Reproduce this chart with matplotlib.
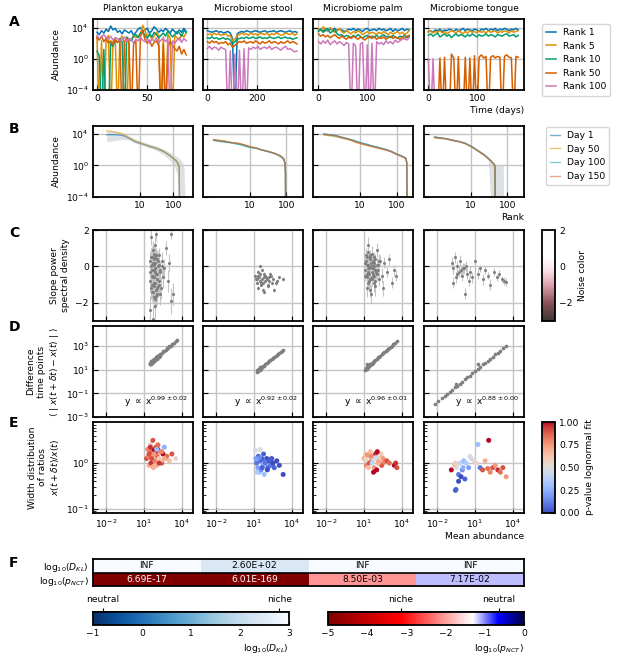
import numpy as np
import matplotlib
matplotlib.use('Agg')
import matplotlib.pyplot as plt
from matplotlib.colors import LinearSegmentedColormap, ListedColormap, Normalize, TwoSlopeNorm
from matplotlib.ticker import NullLocator, LogLocator, NullFormatter
from matplotlib.cm import ScalarMappable

W, H = 617, 658
plt.rcParams.update({
    'font.size': 6.6, 'axes.linewidth': 1.3,
    'xtick.direction': 'in', 'ytick.direction': 'in',
    'xtick.major.size': 3.5, 'ytick.major.size': 3.5,
    'xtick.minor.size': 2, 'ytick.minor.size': 2,
    'xtick.major.pad': 3, 'ytick.major.pad': 3,
    'grid.color': '#c4c4c4', 'grid.linewidth': 1.0,
    'axes.axisbelow': True,
})

# ---------------- data ----------------
titles = ['Plankton eukarya', 'Microbiome stool', 'Microbiome palm', 'Microbiome tongue']
rank_labels = ['Rank 1', 'Rank 5', 'Rank 10', 'Rank 50', 'Rank 100']
rank_colors = ['#0173b2', '#de8f05', '#029e73', '#d55e00', '#cc78bc']
time_step = [2.3, 9.2, 4.7, 4.7]   # days between samples
A_xticks = [[0, 50], [0, 200], [0, 100], [0, 100]]
A_xlim = [(-4, 96.6), (-17, 383), (-11, 191), (-9, 195)]

# log10 abundance; -8 = absent
A_plankton = [
    [3.4,3.1,3.6,3.3,3.8,3.5,4.2,3.7,3.9,3.4,3.6,3.2,3.7,3.5,3.3,3.6,3.0,3.4,3.8,4.0,3.5,3.7,3.9,3.3,3.6,4.1,3.8,3.4,3.7,3.5,3.9,3.6,3.3,3.8,3.5,3.2,3.7,3.4,3.9,3.5],
    [2.8,-8,2.3,-8,2.6,3.0,-8,2.2,2.7,-8,2.5,2.9,2.1,-8,2.6,2.4,3.0,2.7,2.9,3.2,4.3,3.6,2.8,3.1,2.5,2.9,3.4,3.0,-8,2.8,-8,3.2,2.6,-8,3.0,2.7,2.4,3.1,2.8,3.3],
    [1.0,0.4,-8,1.2,-8,-8,2.0,1.6,2.4,2.1,2.6,2.2,-8,2.8,2.5,2.3,2.9,3.1,2.7,3.3,3.5,3.0,2.6,3.2,2.8,3.4,3.1,2.7,3.0,3.3,2.9,3.6,3.2,2.8,3.1,3.5,3.3,2.9,3.6,3.4],
    [2.7,2.4,2.9,2.2,2.6,2.0,2.3,1.8,2.5,2.1,2.4,-8,2.2,2.6,2.0,-8,1.9,2.3,-8,2.8,3.6,2.5,2.0,2.4,1.6,2.1,2.3,1.7,-8,1.9,-8,1.5,2.2,1.8,1.3,1.0,1.6,0.6,1.2,0.5],
    [3.0,2.6,2.8,3.1,2.7,2.5,2.9,2.4,2.7,2.6,2.3,2.5,2.8,2.2,2.6,2.4,2.1,2.5,2.3,2.7,2.4,2.2,2.6,2.0,2.5,2.3,2.7,2.1,2.4,2.6,2.2,2.5,-8,2.3,2.0,2.4,2.7,2.1,2.6,2.3],
]
A_stool = [
    [3.6,3.5,3.4,3.5,3.6,3.4,3.5,3.3,3.4,3.5,3.3,2.6,-8,3.2,3.4,3.5,3.4,3.6,3.5,3.4,3.5,3.6,3.5,3.4,3.5,3.6,3.4,3.5,3.5,3.6,3.4,3.5,3.6,3.5,3.4,3.5,3.6,3.4,3.5,3.4],
    [3.1,3.2,3.0,3.3,3.1,3.2,3.0,3.1,3.2,2.9,3.0,2.3,2.5,3.0,3.1,3.3,3.1,3.2,3.0,3.3,3.1,3.2,3.0,3.3,3.2,3.1,3.3,3.0,3.2,3.1,3.3,3.2,3.0,3.1,3.3,3.2,3.1,3.3,3.0,3.2],
    [2.7,2.6,2.8,2.6,2.7,2.5,2.6,2.7,2.5,2.6,2.4,1.9,2.2,2.5,2.6,2.7,2.6,2.8,2.6,2.7,2.8,2.6,2.7,2.8,2.6,2.7,2.6,2.8,2.7,2.6,2.7,2.8,2.6,2.7,2.8,2.6,2.7,2.5,2.6,2.7],
    [2.2,2.0,2.3,2.1,2.2,1.9,2.1,2.0,2.2,1.8,2.0,1.5,1.7,2.0,2.2,2.1,2.3,2.0,2.1,2.2,2.0,2.3,2.1,1.9,2.2,2.0,2.1,2.3,2.0,2.2,2.1,1.9,2.2,2.0,2.1,2.3,2.0,2.2,2.1,1.9],
    [1.3,1.6,1.2,1.5,1.4,1.1,1.5,1.3,1.2,-8,1.0,-8,0.6,-8,1.1,-8,1.3,-8,1.4,1.2,1.5,1.3,1.6,1.2,1.4,1.5,1.3,1.6,1.2,1.4,1.5,1.3,1.1,1.4,1.6,1.2,1.3,1.1,0.9,1.0],
]
A_palm = [
    [3.7,3.8,3.5,3.9,3.6,3.8,3.7,3.9,3.6,3.8,3.7,3.5,3.6,3.8,3.7,3.9,3.6,3.8,3.7,3.5,3.8,3.9,3.6,3.7,3.8,3.6,3.9,3.7,3.8,3.6,3.7,3.9,3.5,3.8,3.6,3.7,3.9,3.6,3.8,3.7],
    [3.9,3.6,4.1,3.8,3.5,4.0,3.7,3.4,3.6,3.9,3.5,3.3,3.6,3.4,3.2,3.5,3.3,3.6,3.4,3.1,3.3,3.5,3.2,3.4,3.3,3.1,3.4,3.2,3.5,3.3,3.1,3.4,3.2,3.3,3.5,3.2,3.4,3.1,3.3,3.6],
    [3.5,3.8,3.4,3.6,3.9,3.3,3.5,3.7,3.2,3.0,3.1,2.8,3.0,2.9,2.7,3.0,2.8,3.1,2.9,2.6,2.9,3.0,2.7,2.9,2.8,3.0,2.7,2.9,3.1,2.8,2.9,2.7,3.0,2.8,2.6,2.9,2.8,3.0,2.7,2.9],
    [3.2,2.9,3.1,2.8,3.0,2.7,2.9,3.1,2.8,2.6,2.9,2.7,2.5,2.8,2.6,2.9,2.7,2.5,2.8,2.6,2.4,2.7,2.9,2.6,2.8,2.5,2.7,2.6,2.8,2.5,2.7,2.9,2.6,2.8,2.7,2.5,2.8,2.6,2.9,3.0],
    [2.2,1.9,2.3,2.0,2.4,1.8,2.1,2.3,1.9,2.2,2.0,1.7,2.1,1.9,-8,2.0,1.6,-8,1.9,2.1,-8,1.8,-8,2.0,-8,2.2,1.9,2.1,1.8,2.3,2.0,2.2,1.9,2.4,2.1,2.3,2.5,2.6,2.4,2.7],
]
A_tongue = [
    [3.5,3.6,3.4,3.7,3.6,3.8,3.5,3.7,3.6,3.8,3.7,3.5,3.8,3.6,3.7,3.9,3.6,3.8,3.7,3.6,3.8,3.7,3.5,3.8,3.7,3.9,3.6,3.8,3.7,3.9,3.6,3.8,3.7,3.9,3.8,3.6,3.8,3.7,3.9,3.7],
    [3.4,3.6,3.3,3.5,3.4,3.6,3.3,3.5,3.2,3.4,3.6,3.5,3.3,3.6,3.4,3.2,3.5,3.3,3.6,3.4,3.5,3.3,3.6,3.4,3.5,3.3,3.6,3.4,3.5,3.6,3.3,3.5,3.4,3.6,3.5,3.3,3.6,3.4,3.5,3.6],
    [3.0,3.2,2.9,3.1,3.3,2.8,3.0,3.2,2.9,3.1,2.7,3.0,3.2,2.9,3.1,3.0,2.8,3.1,2.9,3.2,3.0,2.8,3.1,2.9,3.0,3.2,2.9,3.1,3.0,2.8,3.1,3.0,2.9,3.1,3.2,2.9,3.0,3.1,2.8,3.0],
    [-8,-8,-8,-8,-8,0.1,-8,0.2,-8,-8,0.6,0.1,-8,0.3,-8,-8,0.2,-8,0.1,-8,0.4,-8,0.2,0.5,0.1,0.3,-8,0.2,0.4,0.1,0.3,0.2,-8,0.3,0.5,0.2,0.1,-8,0.3,0.2],
    [0.0,-8,0.0,-8,-8,-8,-8,-8,-8,-8,-8,-8,-8,-8,-8,-8,-8,-8,-8,-8,-8,-8,-8,-8,-8,-8,-8,-8,-8,-8,-8,-8,-8,-8,-8,-8,-8,-8,-8,-8],
]
A_all = [A_plankton, A_stool, A_palm, A_tongue]

# B: rank abundance (log10)
day_labels = ['Day 1', 'Day 50', 'Day 100', 'Day 150']
day_colors = ['#0173b2', '#de8f05', '#17a3b8', '#e0602a']
B_xlim = [(10**-0.41, 10**2.59), (10**-0.29, 10**2.46), (10**-0.30, 10**2.45), (10**-0.29, 10**2.46)]
B_ranks = [
    [1,2,3,4,5,7,10,15,20,30,50,70,100,120,140,150,155],
    [1,2,3,5,7,10,15,20,30,50,70,85,92,95,96],
    [1,2,3,5,7,10,15,20,30,50,70,100,130,160,180,190,195],
    [1,2,3,5,7,10,12,15,20,25,30,35,40,44,46,47],
]
B_days = [
    [[3.9,3.9,3.8,3.6,3.4,3.0,2.8,2.6,2.4,2.2,1.8,1.4,0.9,0.6,0.2,-0.3,-9],
     [4.4,4.2,4.0,3.7,3.4,3.1,2.9,2.6,2.4,2.2,1.8,1.4,0.9,0.6,0.2,-0.3,-9]],
    [[3.2,3.0,2.9,2.7,2.5,2.3,2.2,2.0,1.8,1.5,1.2,0.8,0.3,-1,-9],
     [3.3,3.1,2.9,2.8,2.6,2.4,2.2,2.0,1.8,1.5,1.2,0.8,0.3,-1,-9],
     [3.2,3.0,2.9,2.7,2.6,2.3,2.2,2.0,1.8,1.5,1.1,0.8,0.2,-1,-9],
     [3.2,3.1,2.9,2.8,2.6,2.4,2.2,2.0,1.8,1.5,1.2,0.9,0.3,-1,-9]],
    [[4.0,3.8,3.6,3.3,3.1,2.85,2.65,2.5,2.3,2.0,1.8,1.45,1.25,1.05,0.9,0.3,-9],
     [3.9,3.7,3.5,3.25,3.0,2.75,2.55,2.4,2.2,1.95,1.75,1.4,1.2,1.0,0.85,0.3,-9],
     [4.0,3.8,3.6,3.35,3.15,2.9,2.7,2.5,2.3,2.05,1.8,1.45,1.25,1.05,0.9,0.3,-9],
     [3.9,3.8,3.55,3.3,3.05,2.8,2.6,2.45,2.25,2.0,1.75,1.4,1.2,1.0,0.85,0.3,-9]],
    [[3.6,3.4,3.2,3.0,2.8,2.45,2.2,1.9,1.55,1.2,0.9,0.6,0.3,0.1,-0.1,-9],
     [3.5,3.4,3.2,3.0,2.75,2.4,2.2,1.9,1.5,1.2,0.9,0.6,0.3,0.1,-0.1,-9],
     [3.6,3.4,3.25,3.0,2.8,2.45,2.25,1.95,1.55,1.25,0.9,0.6,0.35,0.1,-0.1,-9],
     [3.55,3.4,3.2,3.0,2.8,2.4,2.2,1.9,1.5,1.2,0.85,0.6,0.3,0.1,-0.1,-9]],
]
B_band_ranks = [
    [1,2,3,5,7,10,20,30,50,70,100,130,160,190,210,220,222],
    [1,2,3,5,7,10,15,20,30,50,70,85,92,95,97],
    [1,2,3,5,7,10,15,20,30,50,70,100,130,160,180,190,198],
    [1,2,3,5,7,10,15,20,30,40,50,60,70,78,80],
]
B_band_lo = [
    [3.0,3.2,3.3,3.2,2.9,2.6,2.2,1.9,1.4,0.9,0.1,-1.0,-9,-9,-9,-9,-9],
    [3.1,2.9,2.8,2.6,2.4,2.2,2.1,1.9,1.7,1.4,1.0,0.6,0.0,-9,-9],
    [3.8,3.6,3.4,3.2,2.9,2.7,2.5,2.35,2.15,1.9,1.7,1.35,1.1,0.9,0.7,-9,-9],
    [3.4,3.3,3.1,2.9,2.7,2.3,1.8,1.4,0.7,-9,-9,-9,-9,-9,-9],
]
B_band_hi = [
    [4.4,4.3,4.1,3.7,3.4,3.1,2.7,2.5,2.1,1.8,1.4,1.1,0.8,0.4,-0.5,-3,-9],
    [3.4,3.2,3.0,2.9,2.7,2.5,2.3,2.1,1.9,1.6,1.3,1.0,0.5,-0.5,-9],
    [4.1,3.9,3.7,3.45,3.2,3.0,2.8,2.6,2.4,2.1,1.9,1.55,1.35,1.15,1.0,0.5,-9],
    [3.7,3.5,3.3,3.1,2.9,2.5,2.0,1.6,1.0,0.2,0.1,0.1,0.1,0.05,-9],
]

# C: slope of power spectral density vs mean abundance (log10 x)
C_x = [
    [1.45,1.5,1.55,1.6,1.62,1.65,1.7,1.72,1.75,1.78,1.8,1.83,1.85,1.88,1.9,1.93,1.95,1.98,2.0,2.05,2.1,2.15,2.2,2.25,2.3,2.4,2.5,2.6,2.75,2.9,3.0,3.1,3.3,1.5,1.6,1.7,1.8,1.9,2.0,1.55,1.65,1.75,3.13,
     1.48,1.52,1.58,1.63,1.68,1.73,1.77,1.82,1.87,1.92,1.97,2.02,2.08,2.12,2.18,2.22,2.28,2.35,2.45,1.6,1.7,1.8,1.9,2.0,1.75,1.85],
    [1.1,1.2,1.3,1.35,1.4,1.45,1.5,1.55,1.6,1.65,1.7,1.75,1.8,1.85,1.9,2.0,2.1,2.2,2.3,2.4,2.5,2.6,2.8,3.0,3.3,1.25,1.5,1.7,1.9,2.1,
     1.15,1.35,1.55,1.75,1.95,2.15,2.35,2.7],
    [1.05,1.1,1.15,1.2,1.25,1.3,1.35,1.4,1.45,1.5,1.55,1.6,1.65,1.7,1.75,1.8,1.85,1.9,2.0,2.1,2.2,2.3,2.4,2.5,2.6,2.8,3.0,3.2,3.4,3.5,1.2,1.4,1.6,1.8,2.0,1.3,1.5,1.7,
     1.1,1.15,1.2,1.25,1.3,1.35,1.4,1.45,1.5,1.55,1.6,1.65,1.7,1.75,1.8,1.85,1.9,1.95,2.0,2.1,2.2,1.3,1.5,1.7],
    [-0.85,-0.7,-0.6,-0.5,-0.4,-0.3,-0.2,-0.1,0.0,0.1,0.2,0.3,0.4,0.5,0.6,0.8,1.0,1.2,1.4,1.6,1.8,2.0,2.2,2.5,2.7,2.9,3.1,3.3,3.45,-0.75,-0.45,0.05],
]
C_y = [
    [0.3,-0.8,1.6,-0.2,-1.4,0.5,-2.9,-0.5,0.1,-1.1,0.7,-0.3,-1.8,0.2,-0.9,1.8,-0.4,-1.3,0.4,-0.7,0.0,-1.0,0.6,-0.2,-1.5,0.3,-0.6,-0.1,1.0,-0.8,0.2,-1.9,-1.5,-2.4,-1.0,0.9,-0.6,-2.2,-1.2,0.0,-0.5,-1.7,1.8,
     -0.3,0.5,-1.2,0.1,-0.6,-1.4,0.4,-0.9,-0.1,-1.6,0.6,-0.4,-1.1,0.3,-0.8,0.1,-0.3,-1.2,0.0,-0.5,0.2,-0.2,0.5,-1.5,-0.9,1.2],
    [-0.5,-0.9,-0.3,-1.2,-0.6,-0.8,-0.4,-1.0,-0.7,-0.2,-0.9,-0.6,-1.4,-0.5,-0.8,-0.7,-1.1,-0.6,-0.4,-0.9,-0.7,-1.3,-0.8,-0.6,-0.7,-0.7,0.0,-1.3,-0.5,-1.0,
     -0.7,-0.5,-0.9,-0.4,-0.6,-0.8,-0.5,-0.9],
    [0.2,-0.5,0.6,-1.2,0.1,-0.3,0.8,-0.8,-0.1,0.4,-1.5,0.0,-0.6,0.3,-0.9,0.5,-0.2,-1.1,-0.4,0.1,-0.7,0.3,-0.5,-1.2,0.2,-0.3,0.4,-0.9,-0.2,-0.5,-0.4,0.0,-0.7,0.2,0.9,1.2,-1.3,-0.1,
     -0.2,0.3,-0.6,0.5,-0.9,0.1,-0.4,0.6,-0.7,0.2,-0.3,0.7,-0.1,-0.5,0.0,-0.8,0.4,-0.3,0.1,-0.2,0.3,-0.1,0.5,-0.4],
    [0.2,-0.1,0.5,-0.6,0.0,-0.3,0.3,-0.2,-0.5,-0.1,-1.5,0.0,-0.4,-0.8,-0.3,-0.6,0.3,-0.4,-0.1,-0.7,-0.2,-0.5,-1.0,-0.3,-0.6,-0.4,-0.7,-0.8,-0.85,-0.9,-0.4,-0.1],
]
C_err = [
    [0.5,0.6,0.4,0.7,0.5,0.6,0.8,0.5,0.4,0.6,0.5,0.7,0.6,0.5,0.6,0.4,0.5,0.7,0.5,0.6,0.5,0.6,0.4,0.5,0.6,0.5,0.6,0.5,0.4,0.6,0.5,0.7,0.6,0.8,0.6,0.5,0.6,0.7,0.6,0.5,0.5,0.6,0.3,
     0.5,0.5,0.6,0.5,0.4,0.6,0.5,0.5,0.6,0.5,0.4,0.5,0.6,0.5,0.5,0.4,0.5,0.6,0.5,0.5,0.6,0.5,0.4,0.6,0.5,0.5],
    [0.1,0.1,0.1,0.1,0.1,0.1,0.1,0.1,0.1,0.1,0.1,0.1,0.1,0.1,0.1,0.1,0.1,0.1,0.1,0.1,0.1,0.1,0.1,0.1,0.1,0.1,0.1,0.1,0.1,0.1,
     0.1,0.1,0.1,0.1,0.1,0.1,0.1,0.1],
    [0.4,0.3,0.4,0.5,0.3,0.4,0.4,0.5,0.3,0.4,0.5,0.3,0.4,0.4,0.5,0.3,0.4,0.5,0.4,0.3,0.4,0.3,0.4,0.4,0.3,0.3,0.3,0.3,0.3,0.3,0.4,0.4,0.4,0.4,0.4,0.4,0.4,0.4,
     0.35,0.3,0.4,0.35,0.3,0.4,0.35,0.3,0.4,0.35,0.3,0.4,0.35,0.3,0.4,0.35,0.3,0.4,0.35,0.3,0.4,0.35,0.3,0.4],
    [0.3,0.3,0.3,0.3,0.3,0.3,0.3,0.3,0.3,0.3,0.3,0.3,0.3,0.3,0.3,0.3,0.3,0.3,0.2,0.3,0.2,0.2,0.3,0.2,0.2,0.2,0.2,0.2,0.2,0.3,0.3,0.3],
]

# D: mean absolute difference vs mean abundance (log10)
D_x = [
    [1.45,1.5,1.52,1.55,1.58,1.6,1.63,1.65,1.68,1.7,1.72,1.75,1.78,1.8,1.85,1.9,1.95,2.0,2.05,2.1,2.2,2.3,2.4,2.5,2.6,2.7,2.8,2.9,3.0,3.1,3.2,3.35,3.5,3.6,
     1.5,1.6,1.7,1.8,1.9,2.0,2.15,2.25],
    [1.2,1.25,1.3,1.35,1.4,1.45,1.5,1.55,1.6,1.7,1.8,1.9,2.0,2.1,2.2,2.3,2.4,2.5,2.6,2.7,2.8,2.9,3.0,3.1,3.2,3.3,
     1.28,1.38,1.48,1.58],
    [1.08,1.15,1.2,1.25,1.3,1.35,1.4,1.5,1.6,1.7,1.8,1.9,2.0,2.1,2.2,2.3,2.4,2.5,2.6,2.7,2.8,2.9,3.0,3.1,3.2,3.3,3.45,3.6,1.23,
     1.12,1.18,1.28,1.38,1.45,1.55,1.65,1.75],
    [-2.15,-1.9,-1.6,-1.4,-1.2,-1.0,-0.8,-0.6,-0.4,-0.2,0.0,0.2,0.4,0.6,0.8,1.0,1.2,1.4,1.6,1.8,2.0,2.2,2.4,2.6,2.8,3.0,3.2,3.48,1.23,-0.5],
]
D_y = [
    [1.45,1.6,1.5,1.55,1.7,1.62,1.75,1.65,1.8,1.72,1.85,1.78,1.9,1.85,1.95,1.9,2.05,2.0,2.15,2.1,2.25,2.35,2.4,2.55,2.6,2.7,2.8,2.85,3.0,3.05,3.2,3.3,3.45,3.55,
     1.45,1.55,1.65,1.75,1.85,1.95,2.1,2.2],
    [0.85,0.95,0.9,1.0,1.05,1.0,1.15,1.1,1.2,1.3,1.35,1.5,1.55,1.65,1.7,1.85,1.9,2.0,2.05,2.15,2.25,2.3,2.45,2.5,2.6,2.7,
     1.0,1.1,1.2,1.25],
    [1.0,1.1,1.1,1.2,1.2,1.3,1.3,1.45,1.5,1.6,1.75,1.8,1.9,2.05,2.1,2.2,2.3,2.45,2.5,2.55,2.7,2.75,2.85,2.95,3.05,3.2,3.3,3.4,1.5,
     1.05,1.15,1.25,1.35,1.4,1.5,1.6,1.7],
    [-1.88,-1.65,-1.35,-1.2,-1.05,-0.85,-0.7,-0.5,-0.35,-0.2,0.0,0.2,0.35,0.5,0.7,0.9,1.05,1.2,1.45,1.6,1.75,1.95,2.1,2.3,2.45,2.6,2.85,3.03,1.5,-0.2],
]
D_labels = [r'y $\propto$ x$^{0.99\pm0.02}$', r'y $\propto$ x$^{0.92\pm0.02}$',
            r'y $\propto$ x$^{0.96\pm0.01}$', r'y $\propto$ x$^{0.88\pm0.00}$']

# E: width of ratio distribution vs mean abundance (log10) and p-value
E_x = [
    [1.2,1.3,1.4,1.45,1.5,1.55,1.6,1.65,1.7,1.75,1.8,1.85,1.9,1.95,2.0,2.05,2.1,2.2,2.3,2.4,2.5,2.6,2.7,2.8,3.0,3.2,3.5,1.35,1.5,1.7,1.9,2.1,2.3,1.6,1.8,2.0,2.2,2.4,2.6,1.4],
    [1.1,1.2,1.3,1.35,1.4,1.5,1.55,1.6,1.7,1.75,1.8,1.9,2.0,2.1,2.2,2.3,2.4,2.5,2.6,2.8,3.0,3.3,1.25,1.45,1.65,1.85,2.05,2.25,1.15,1.5],
    [1.0,1.1,1.2,1.3,1.4,1.5,1.6,1.7,1.8,1.9,2.0,2.1,2.2,2.3,2.4,2.5,2.6,2.8,3.0,3.4,3.5,3.6,1.15,1.35,1.55,1.75,1.95,2.15,2.35,1.25,1.65,2.05],
    [-0.87,-0.6,-0.55,-0.5,-0.45,-0.3,-0.2,-0.1,0.0,0.1,0.2,0.3,0.5,0.7,0.9,1.1,1.23,1.4,1.6,1.8,2.0,2.08,2.2,2.4,2.6,2.8,3.0,3.2,3.46,-0.3,0.05,-0.55,0.6],
]
E_y = [
    [0.1,0.3,-0.05,0.2,0.4,0.0,0.25,0.15,0.5,-0.1,0.3,0.05,0.2,0.35,-0.05,0.15,0.3,0.1,0.25,0.0,0.2,0.35,0.1,0.15,0.05,0.2,0.1,0.15,0.35,-0.08,0.25,0.4,0.05,0.1,0.2,0.3,0.0,0.25,0.1,0.2],
    [0.28,0.0,-0.1,0.15,-0.2,0.05,-0.15,0.1,-0.05,0.2,-0.25,0.0,0.1,-0.1,0.05,-0.05,0.1,0.0,-0.1,0.05,-0.05,-0.25,-0.2,0.12,-0.1,0.03,-0.15,0.08,0.1,0.3],
    [0.1,0.2,-0.05,0.15,0.0,0.25,0.05,0.1,-0.1,0.2,-0.15,0.05,0.0,0.15,-0.05,0.1,0.02,0.05,0.0,-0.05,0.0,-0.1,0.08,-0.1,0.15,-0.2,0.12,0.0,0.2,0.18,0.0,0.25],
    [-0.15,-0.05,-0.6,-0.58,-0.1,-0.25,0.0,-0.3,-0.15,0.05,-0.35,0.0,-0.1,0.1,0.05,0.0,0.41,-0.1,-0.15,0.05,-0.12,0.5,-0.2,-0.1,-0.05,-0.15,-0.2,-0.1,-0.3,-0.4,-0.1,0.0,0.15],
]
E_p = [
    [0.9,0.8,0.7,1.0,0.6,0.95,0.85,0.75,0.9,0.65,1.0,0.8,0.2,0.9,0.7,0.85,0.95,0.6,0.8,0.9,1.0,0.25,0.7,0.85,0.65,0.9,0.55,0.8,0.95,0.7,1.0,0.85,0.6,0.9,0.75,0.3,0.95,0.8,0.7,0.9],
    [0.45,0.1,0.2,0.05,0.3,0.1,0.15,0.02,0.25,0.05,0.3,0.1,0.0,0.05,0.0,0.1,0.02,0.0,0.05,0.0,0.01,0.0,0.35,0.15,0.05,0.1,0.0,0.05,0.2,0.5],
    [0.7,0.6,0.8,0.45,0.9,0.65,0.85,0.5,0.75,0.95,1.0,0.7,0.85,0.6,0.9,0.75,0.8,0.9,0.85,1.0,0.95,0.9,0.55,0.65,0.8,1.0,0.45,0.7,0.6,0.75,0.4,1.0],
    [1.0,0.7,0.05,0.05,0.5,0.1,0.4,0.0,0.15,0.3,0.05,0.35,0.2,0.45,0.5,0.55,0.3,0.1,0.9,0.7,0.85,1.0,0.8,0.9,0.75,0.95,0.85,0.9,0.75,0.0,0.25,0.6,0.5],
]

# F: neutrality tests
F_dkl_text = ['INF', '2.60E+02', 'INF', 'INF']
F_dkl_log = [np.inf, 2.415, np.inf, np.inf]
F_pnct_text = ['6.69E-17', '6.01E-169', '8.50E-03', '7.17E-02']
F_pnct_log = [-16.17, -168.22, -2.07, -1.14]

# ---------------- figure ----------------
fig = plt.figure(figsize=(W/100, H/100), dpi=100)

def pax(x0, y0, x1, y1):
    return fig.add_axes([x0/W, 1-y1/H, (x1-x0)/W, (y1-y0)/H])

colx = [(93, 193), (203, 303), (313, 413), (424, 524)]
rows = {'A': (19, 90), 'B': (126, 197), 'C': (230, 321), 'D': (326, 417), 'E': (422, 513)}
leg_kw = dict(loc='upper left', fontsize=6.6, frameon=True, fancybox=True, edgecolor='#cccccc',
              handlelength=1.1, handletextpad=0.7, borderpad=0.45, labelspacing=0.5, borderaxespad=0)

# Row A
for i, (x0, x1) in enumerate(colx):
    ax = pax(x0, rows['A'][0], x1, rows['A'][1])
    for j, vals in enumerate(A_all[i]):
        t = np.arange(len(vals)) * time_step[i]
        ax.plot(t, 10**np.array(vals, float), color=rank_colors[j], lw=1.1, label=rank_labels[j])
    ax.set_yscale('log')
    ax.set_ylim(1e-4, 10**5.1)
    ax.set_xlim(*A_xlim[i])
    ax.set_yticks([1e-4, 1, 1e4])
    ax.yaxis.set_minor_locator(NullLocator())
    ax.set_xticks(A_xticks[i])
    ax.grid(True)
    ax.set_title(titles[i], fontsize=6.6, pad=6)
    if i == 0:
        ax.set_ylabel('Abundance')
        handles, labs = ax.get_legend_handles_labels()
    else:
        ax.set_yticklabels([])
    if i == 3:
        ax.set_xlabel('Time (days)', loc='right', labelpad=2)
fig.legend(handles, labs, bbox_to_anchor=(542/W, 1-24/H), **leg_kw)

# Row B
bh = []
for i, (x0, x1) in enumerate(colx):
    ax = pax(x0, rows['B'][0], x1, rows['B'][1])
    ax.fill_between(B_band_ranks[i], 10**np.array(B_band_lo[i]), 10**np.array(B_band_hi[i]),
                    color='#c9ced3', alpha=0.6, lw=0)
    for j, vals in enumerate(B_days[i]):
        ln, = ax.plot(B_ranks[i], 10**np.array(vals), color=day_colors[j], alpha=0.55, lw=1.0, label=day_labels[j])
        if i == 2:
            bh.append(ln)
    ax.set_xscale('log'); ax.set_yscale('log')
    ax.set_xlim(*B_xlim[i]); ax.set_ylim(1e-4, 1e5)
    ax.set_yticks([1e-4, 1, 1e4]); ax.yaxis.set_minor_locator(NullLocator())
    ax.set_xticks([10, 100]); ax.set_xticklabels(['10', '100']); ax.xaxis.set_minor_locator(NullLocator())
    ax.grid(True)
    if i == 0:
        ax.set_ylabel('Abundance')
    else:
        ax.set_yticklabels([])
    if i == 3:
        ax.set_xlabel('Rank', loc='right', labelpad=2)
fig.legend(bh, day_labels, bbox_to_anchor=(546/W, 1-127/H), **leg_kw)

xl = (10**-3.03, 10**4.87)
xt = [1e-2, 1e1, 1e4]
# Row C
for i, (x0, x1) in enumerate(colx):
    ax = pax(x0, rows['C'][0], x1, rows['C'][1])
    ax.errorbar(10**np.array(C_x[i]), C_y[i], yerr=C_err[i], fmt='o', ms=2.2, color='#7f7f7f',
                ecolor='#c4c4c4', elinewidth=0.8, capsize=0, mew=0)
    ax.set_xscale('log'); ax.set_xlim(*xl); ax.set_ylim(-3, 2)
    ax.set_xticks(xt); ax.xaxis.set_minor_locator(NullLocator()); ax.set_xticklabels([])
    ax.set_yticks([-2, 0, 2]); ax.grid(True)
    if i == 0:
        ax.set_ylabel('Slope power\nspectral density')
    else:
        ax.set_yticklabels([])

# Row D
for i, (x0, x1) in enumerate(colx):
    ax = pax(x0, rows['D'][0], x1, rows['D'][1])
    ax.scatter(10**np.array(D_x[i]), 10**np.array(D_y[i]), s=7, color='#7f7f7f', lw=0)
    ax.set_xscale('log'); ax.set_yscale('log')
    ax.set_xlim(*xl); ax.set_ylim(1e-3, 10**4.7)
    ax.set_xticks(xt); ax.xaxis.set_minor_locator(NullLocator()); ax.set_xticklabels([])
    ax.set_yticks([1e-3, 1e-1, 1e1, 1e3]); ax.yaxis.set_minor_locator(NullLocator())
    ax.grid(True)
    ax.text(0.63, 0.17, D_labels[i], transform=ax.transAxes, ha='center', va='center', fontsize=6.6)
    if i == 0:
        ax.set_ylabel('Difference\ntime points\n' + r'$\langle\ |\ x(t+\delta t) - x(t)\ |\ \rangle$')
    else:
        ax.set_yticklabels([])

# Row E
for i, (x0, x1) in enumerate(colx):
    ax = pax(x0, rows['E'][0], x1, rows['E'][1])
    ax.scatter(10**np.array(E_x[i]), 10**np.array(E_y[i]), c=E_p[i], cmap='coolwarm', vmin=0, vmax=1, s=13, lw=0)
    ax.set_xscale('log'); ax.set_yscale('log')
    ax.set_xlim(*xl); ax.set_ylim(0.08, 8)
    ax.set_xticks(xt); ax.xaxis.set_minor_locator(NullLocator())
    ax.set_yticks([0.1, 1])
    ax.yaxis.set_minor_locator(LogLocator(subs=np.arange(2, 10)))
    ax.yaxis.set_minor_formatter(NullFormatter())
    ax.grid(True)
    if i == 0:
        ax.set_ylabel('Width distribution\nof ratios\n' + r'$x(t+\delta t)/x(t)$')
    else:
        ax.set_yticklabels([])
    if i == 3:
        ax.set_xlabel('Mean abundance', loc='right', labelpad=2)

# colorbars C and E
noise_cmap = LinearSegmentedColormap.from_list('noise', [(0, '#3b3333'), (0.2, '#8c5357'), (0.4, '#dba4ae'),
                                                         (0.56, '#fbe2ea'), (0.7, '#ffffff'), (1, '#ffffff')])
caxc = pax(542, 230, 555, 321)
cb = fig.colorbar(ScalarMappable(Normalize(-3, 2), noise_cmap), cax=caxc)
cb.set_ticks([-2, 0, 2]); cb.set_label('Noise color')
caxe = pax(542, 422, 555, 513)
cb = fig.colorbar(ScalarMappable(Normalize(0, 1), 'coolwarm'), cax=caxe)
cb.set_ticks([0, 0.25, 0.5, 0.75, 1.0]); cb.set_ticklabels(['0.00', '0.25', '0.50', '0.75', '1.00'])
cb.set_label('p-value lognormal fit')
for c in (caxc, caxe):
    c.tick_params(direction='in', labelsize=6.6)

# Row F heatmap
pn_norm = TwoSlopeNorm(vmin=-5, vcenter=np.log10(0.05), vmax=0)
pn_cmap = ListedColormap(plt.get_cmap('seismic_r')(pn_norm(np.linspace(-5, 0, 256))))
axf = pax(93, 559, 524, 586)
dkl = np.clip(np.array(F_dkl_log, float), -1, 3)
pn = np.clip(np.array(F_pnct_log, float), -5, 0)
axf.pcolormesh(np.arange(5), [0, 1], dkl[None, :], cmap='Blues_r', vmin=-1, vmax=3)
axf.pcolormesh(np.arange(5), [1, 2], pn[None, :], cmap=pn_cmap, vmin=-5, vmax=0)
axf.set_xlim(0, 4); axf.set_ylim(2, 0)
axf.axhline(1, color='black', lw=1.2)
axf.set_xticks([])
axf.set_yticks([0.5, 1.5])
axf.set_yticklabels([r'log$_{10}$($D_{KL}$)', r'log$_{10}$($p_{NCT}$)'])
for k in range(4):
    axf.text(k + 0.5, 0.5, F_dkl_text[k], ha='center', va='center', color='black', fontsize=6.6)
    axf.text(k + 0.5, 1.5, F_pnct_text[k], ha='center', va='center',
             color='white' if pn[k] < -3.5 else 'black', fontsize=6.6)

cax1 = pax(93, 612, 289, 625)
cb1 = fig.colorbar(ScalarMappable(Normalize(-1, 3), 'Blues_r'), cax=cax1, orientation='horizontal')
cb1.set_ticks([-1, 0, 1, 2, 3])
cax1.tick_params(direction='in', length=3)
cax1.set_xlabel(r'log$_{10}$($D_{KL}$)', loc='right', labelpad=3)
s1 = cax1.secondary_xaxis('top')
s1.set_xticks([-0.8, 2.8]); s1.set_xticklabels(['neutral', 'niche'])
s1.tick_params(direction='out', length=3)

cax2 = pax(328, 612, 524, 625)
cb2 = fig.colorbar(ScalarMappable(Normalize(-5, 0), pn_cmap), cax=cax2, orientation='horizontal')
cb2.set_ticks([-5, -4, -3, -2, -1, 0])
cax2.tick_params(direction='in', length=3)
cax2.set_xlabel(r'log$_{10}$($p_{NCT}$)', loc='right', labelpad=3)
s2 = cax2.secondary_xaxis('top')
s2.set_xticks([-3.15, -0.65]); s2.set_xticklabels(['niche', 'neutral'])
s2.tick_params(direction='out', length=3)

# panel letters
for letter, yy in [('A', 22), ('B', 129), ('C', 233), ('D', 327), ('E', 423), ('F', 563)]:
    fig.text(14/W, 1-yy/H, letter, fontsize=10, fontweight='bold', ha='center', va='center')

fig.savefig('out.png', dpi=100)
